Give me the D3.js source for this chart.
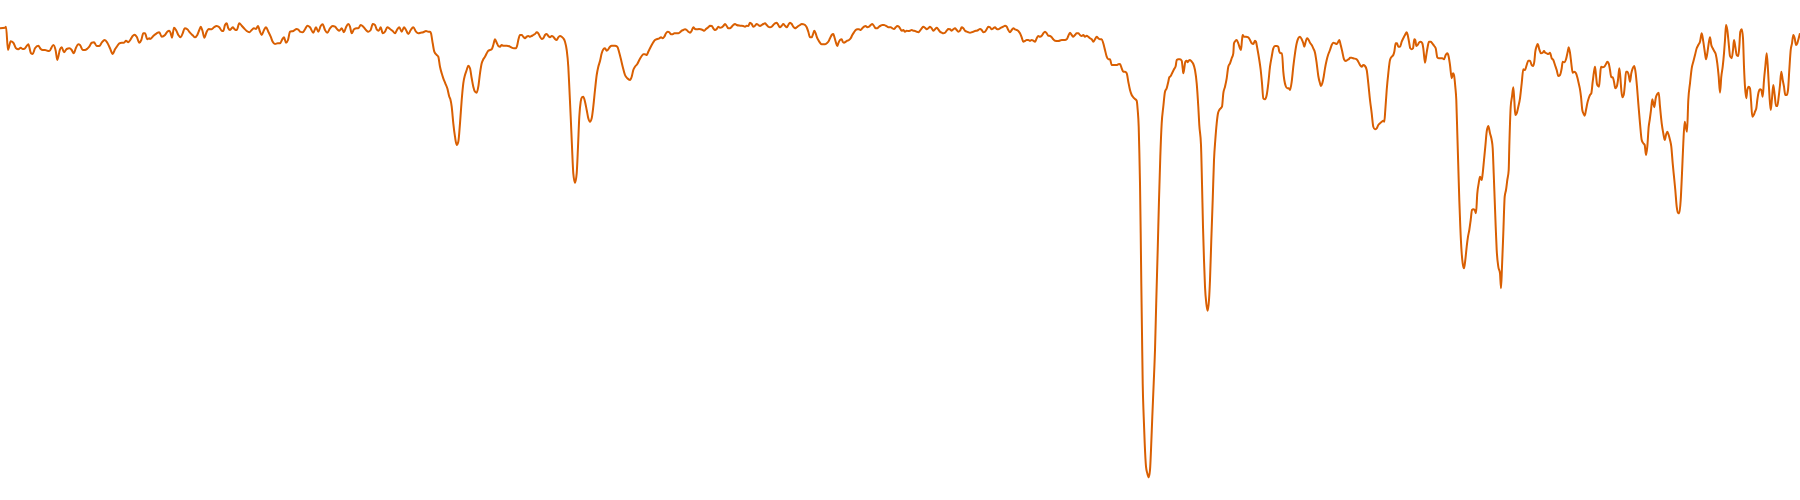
<!DOCTYPE html>
<html>
<head>
<meta charset="utf-8">
<script src="https://cdn.jsdelivr.net/npm/d3@7"></script>
<style>
  html, body { margin: 0; padding: 0; background: #ffffff; }
  svg { display: block; }
</style>
</head>
<body>
<svg id="chart" width="1800" height="500"></svg>
<script>
// Spectrum trace as [position, depth] pairs (depth grows downward)
const seg1 = [[0,28.3],[5,27.7],[6,26.7],[8,50],[10.7,41.3],[13.3,42.7],[16,48.3],[18.3,49.3],[20.7,47.7],[22.7,49],[25,48.3],[28.3,44.3],[31,53.3],[32.7,54],[35,48.3],[38.3,45.7],[40.7,49],[42.7,50],[45,50],[47.3,50.7],[49.3,51],[53.3,45],[55.7,50.7],[57.3,60],[60,49.3],[61.7,47.3],[64,52.3],[66.7,49],[69.3,48.3],[71.7,50],[73.7,53.3],[76,47.7],[78.3,44.3],[80,45],[82.7,50],[85,50],[87.3,48.7],[89.3,46.7],[91.7,42.7],[94,42.3],[96.7,46],[99.3,46],[101.7,42.7],[104.7,40],[107.3,42.7],[110,48.3],[112.7,54],[115,49.3],[117.3,46],[119.3,43.3],[121.7,42.7],[124,42.7],[126,40.7],[128.3,42.3],[130.7,39.3],[132.7,36],[134.3,34.7],[136.7,36.7],[139.3,42.7],[141.3,40],[143.3,33.3],[145,33.3],[147.3,39.3],[149.3,38.3]];
const seg2 = [[150,39],[153.3,36],[156.7,33.3],[159.3,32.3],[161.7,36.7],[165,35],[167.3,31.7],[169.3,30.7],[170.7,33.3],[172,37.7],[174,27.7],[176,30],[178.3,35],[180.7,37.3],[182.7,33.3],[184.7,28.3],[187.3,29.3],[190,32.7],[192.7,35.3],[195,37.3],[197.3,35],[199.3,30],[200.7,26.7],[202.7,31.7],[204.3,37.7],[206.7,31.7],[208.7,29],[211.7,29.3],[214,27.3],[216.7,26],[219.3,27.3],[221.7,30.7],[223.3,31],[225,25],[226.7,23.3],[228.3,28.3],[230,30],[232.7,27.3],[234.7,29.3],[236.7,30],[239.3,23.3],[241.7,25.7],[244,28.3],[246.7,31],[249.3,32.3],[251.7,30],[254,28.3],[256,29],[258,26],[260,31.7],[261.7,35],[264,30],[266,27.3],[268.3,31.7],[270.7,36.7],[272.7,41.7],[275,44],[277.7,43.3],[280,43.3],[282.3,39.3],[284,37.3],[286,42.7],[288,40],[290,31.7],[293.3,31],[296.7,29],[299.3,30.7]];
const seg3 = [[300,31.7],[302.7,32.3],[305,29.3],[307.3,25.7],[310,27.3],[313.3,32.7],[316,27.3],[318.3,31.7],[320.7,26],[322.7,24.3],[325,30],[327.3,32.7],[330,28.3],[332.7,26],[335,26.7],[337.3,29.3],[339.3,30.7],[341.7,28.3],[344,32.3],[346,27.3],[348.3,24],[350,26.7],[351.7,33.3],[354,29.3],[356.7,28.3],[358.3,28.3],[360.7,25],[363.3,26.7],[366,30],[368.3,31.7],[370.7,30],[372.7,24],[375,25],[376.7,29.3],[378.7,30.7],[380.7,27.3],[382.7,33.3],[385,31.7],[387.3,27.3],[390,29],[392.7,31],[395,33.3],[397.3,29.3],[399.3,27.3],[401.7,31.7],[404,27.3],[406,30],[408.3,34],[410.7,30],[413.3,27.3],[416,31.7],[418.3,33.3],[420.7,32.7],[423.3,32.3],[426,31],[428.3,31.7],[430,31.7],[431,33.3],[432.7,43.3],[434.3,51.7],[436.7,55],[438.3,56.7],[440,66.7],[441.7,73.3],[443.3,78.3],[445.3,83.3],[447.3,88.3],[449.3,96.7]];
const seg4 = [[450.3,99],[451.7,106.7],[453.3,123.3],[455,136.7],[456.7,145],[458.3,141.7],[460,123.3],[461.7,100],[463.3,83.3],[465,75],[466.7,70],[468.3,65.7],[470,68.3],[471.7,78.3],[473.3,86.7],[475,91.7],[476.7,92.7],[478.3,86.7],[480,73.3],[481.7,63.3],[483.3,59.3],[485,56.7],[486.7,53.3],[488.3,50.7],[490,50],[491.7,49.3],[493.3,45],[495,39.3],[496.7,42.7],[498.3,46],[500,46.7],[501.7,45],[503.3,45.7],[506.7,45.7],[510,46.7],[511.7,47.7],[514,48.3],[516,48.3],[517.3,45],[518.3,40],[520,35],[521.7,35],[523.3,36.7],[525,38.3],[526.7,36.7],[528.3,36],[530,36.7],[531.7,36],[533.3,35],[535,34],[536.7,32.3],[538.3,33.3],[540,36.7],[541.7,39],[543.3,38.3],[545,35],[546.7,34],[548.3,36],[550,37.3],[551.7,36],[553.3,36.7],[555,39],[556.7,40],[558.3,37.3],[560,36],[561.7,36.7],[563.3,38.3],[565,41.7],[566.7,50],[568.3,66.7],[569.3,86.7],[570.7,116.7],[572,146.7],[573.3,173.3],[575,182.7],[576.7,173.3],[578,146.7],[579.3,116.7],[580.7,101.7],[582,97.3],[583.3,96.7],[585,101.7],[586.7,110],[588.3,118.3],[590,121.7],[591.7,118.3],[593.3,106.7],[595,90],[596.7,75],[598.3,66.7]];
const seg5 = [[600,61],[601.7,53.3],[603.3,49.3],[605,48.3],[606.7,50.7],[608.3,49.3],[610,46.7],[611.7,45.7],[615,45.7],[617.3,46.7],[619,51.7],[620.7,58.3],[622.7,66.7],[625,75],[627.3,78.3],[630,80],[631.7,76.7],[633.3,70],[635,66.7],[637.3,64],[639.3,60],[641.7,56],[643.3,54.3],[645,54.3],[646.7,55],[648.3,51.7],[650,48.3],[651.7,45],[653.3,42.3],[655,40],[657.3,39],[659.3,38.3],[661,37.3],[662.7,38.3],[664.3,36.7],[666,33.3],[667.7,31.7],[669.3,32.3],[671,34.3],[672.7,34.3],[674.3,33.3],[676,33.3],[678.3,33.3],[680,32.3],[681.7,30.7],[683.3,30],[685,29.3],[686.7,30],[688.3,31.7],[690,32.7],[691.7,30.7],[693.3,27.3],[695,29],[696.7,29.3],[699,29],[700.7,29.3],[702.7,30],[704.3,30.7],[706,29],[708.3,27.3],[710,25.7],[711.7,26],[713.3,28.3],[715,30],[716.7,29],[718.3,26.7],[720,27.7],[721.7,27.3],[723.3,26],[725,24],[726.7,26],[728.3,28.3],[730,28.3],[731.7,26.7],[733.3,25],[735,24],[736.7,25],[740,25.7],[743.3,26],[745,26.7],[746.7,25.7],[748.3,26]];
const seg6 = [[750,22.7],[751.7,24],[753.3,26.7],[755,25.7],[756.7,24],[758.3,25],[760,26],[761.7,25],[763.3,24],[765,23.3],[766.7,25],[768.3,26.7],[770,27.3],[771.7,26.7],[773.3,25],[775,23.3],[776.7,22.7],[778.3,25],[780,27.3],[781.7,25.7],[783.3,24],[785,25.7],[786.7,27.3],[788.3,25],[790,22.7],[791.7,24],[793.3,26.7],[795,28.3],[796.7,27.3],[798.3,26],[800,25],[801.7,24],[803.3,24.3],[805,25],[806.7,27.3],[808.3,31.7],[810,37.3],[811.7,37.3],[813.3,33.3],[814.3,30.7],[815.7,33.3],[816.7,36.7],[818.3,40],[820,42.7],[821.7,44.3],[823.3,44.3],[825,44.3],[826.7,43.3],[828.3,41.7],[830,38.3],[831.7,35],[833.3,34],[834.3,36.7],[835.7,41.7],[837.3,46],[838.3,43.3],[840,40],[841.7,39.3],[842.7,41.7],[844,42.7],[845.7,41.7],[847.3,40.7],[849,40],[850.7,38.3],[852.3,35],[854,32.3],[855.7,30],[857.3,29.3],[859,29.3],[860.7,30],[862.3,28.3],[864,26.7],[865.7,26],[867.3,27.3],[869,26.7],[870.7,25],[872.3,24],[874,26],[875.7,28.3],[877.3,28.3],[879,26.7],[880.7,25.7],[882.3,25],[884,25],[885.7,25.7],[887.3,26.7],[889,27.3],[890.7,27.3],[892.3,28.3],[894,29],[895.7,27.3],[897.3,26],[899,26.7]];
const seg7 = [[900,28.3],[901.7,30.7],[903.3,30],[905,31.7],[906.7,30.7],[908.3,31],[910,30.7],[911.7,30],[913.3,30.7],[915,31],[916.7,31.7],[918.3,32.3],[920,30.7],[921.7,28.3],[923.3,26.7],[925,27.7],[926.7,29.3],[928.3,28.3],[930,26.7],[931.7,28.3],[933.3,30.7],[935,29.3],[936.7,27.7],[938.3,29.3],[940,31.7],[941.7,32.7],[943.3,33.3],[945,32.7],[946.7,30.7],[948.3,29],[950,29.3],[951.7,30.7],[953.3,29.3],[955,28.3],[956.7,30],[958.3,31.7],[960,30.7],[961.7,27.3],[963.3,28.3],[965,30.7],[966.7,31.7],[968.3,32.3],[970,32.7],[971.7,32.3],[973.3,31.7],[975,31],[976.7,30.7],[978.3,30],[980,29],[981.7,30],[983.3,32.3],[985,31.7],[986.7,29.3],[988.3,26.7],[990,27.3],[991.7,29.3],[993.3,28.3],[995,27.3],[996.7,29],[998.3,29.3],[1000,28.3],[1001.7,27.3],[1003.3,26.7],[1005,25.7],[1006.7,26.7],[1008.3,30],[1010,32.3],[1011.7,30],[1013.3,28.3],[1015,29.3],[1016.7,30],[1018.3,31],[1020,33.3],[1021.7,37.3],[1023.3,41.7],[1025,41],[1026.7,40],[1028.3,40],[1030,40.7],[1031.7,40],[1033.3,40.7],[1035,41.7],[1036.7,38.3],[1038.3,36],[1040,36.7],[1041.7,35.7],[1043.3,33.3],[1045,31.7],[1046.7,33.3],[1048.3,35.7]];
const seg8 = [[1050,36],[1051.7,37.3],[1053.3,39.3],[1055,40.7],[1058.3,41],[1061.7,40],[1065,40],[1066.7,39.3],[1068.3,36],[1070,32.7],[1071.7,35],[1073.3,36.7],[1075,35],[1076.7,33.3],[1078.3,33.3],[1080,35],[1081.7,36],[1083.3,35],[1085,36.7],[1086.7,35.7],[1088.3,36.7],[1090,38.3],[1091.7,39.3],[1093.3,41.7],[1095,39.3],[1096.7,36.7],[1098.3,38.3],[1100,39.3],[1101.7,39.3],[1103.3,43.3],[1105,50],[1106.7,56.7],[1108.3,59.3],[1110,59.3],[1111.7,65],[1113.3,65],[1115,65],[1116.7,65],[1118.3,64.3],[1120,64],[1121.7,68.3],[1123.3,71.7],[1125,71.7],[1126.7,73.3],[1128.3,81.7],[1130,90],[1131.7,95],[1133.3,97.3],[1135,99],[1136.7,100.7],[1137.7,110],[1138.7,126.7],[1139.3,150],[1140,183.3],[1140.7,233.3],[1141.3,283.3],[1142,333.3],[1142.7,383.3],[1143.7,416.7],[1144.7,443.3],[1146,466.7],[1147.3,473.3],[1148.7,477.3],[1150,470],[1151,450],[1152.3,416.7],[1153.7,383.3],[1155,350],[1156.3,300],[1157.7,250],[1159,200],[1160.3,156.7],[1161.7,123.3],[1163.3,106.7],[1165,91.7],[1166.7,88.3],[1168.3,81.7],[1169.3,77.3],[1170.7,76],[1172.3,72.7],[1174,69.3],[1175.7,66],[1176.7,60],[1178.3,59.3],[1180,59.3],[1181.7,60.7],[1182.7,68.3],[1183.3,73.3],[1184.3,68.3],[1185.3,61.7],[1186.7,60.7],[1187.7,62.3],[1188.7,60.7],[1190,60],[1191.7,61.7],[1193.3,64],[1195,70],[1196.7,83.3],[1198.3,106.7],[1199.3,125]];
const seg9 = [[1201,145],[1202,183.3],[1203,226.7],[1204,260],[1205,286.7],[1206.3,303.3],[1207.7,310.7],[1209,300],[1210,280],[1211.3,240],[1212.7,200],[1214,160],[1215.3,140],[1216.7,123.3],[1218,113.3],[1219.3,110],[1220.7,108.3],[1222,106.7],[1223.3,93.3],[1225,86.7],[1226.7,78.3],[1228.3,66.7],[1230,63.3],[1231.7,58.3],[1233.3,53.3],[1234,43.3],[1235.3,41],[1236.7,40],[1238.3,43.3],[1240,48.3],[1241,50],[1242,40],[1242.7,35],[1244,36.7],[1246,36.7],[1248.3,37.3],[1250,40],[1251.7,43.3],[1253.3,44],[1255,40.7],[1256,41.7],[1257.3,48.3],[1259.3,60],[1260.7,70],[1262,83.3],[1263.3,98.3],[1265,99.3],[1266.7,95],[1268.3,83.3],[1270,66.7],[1271.7,56.7],[1273.3,48.3],[1275,46],[1276.7,46],[1278.3,46.7],[1279.3,51.7],[1280.7,53.3],[1282,53.3],[1283.3,71.7],[1284.3,80],[1285.7,86],[1287.3,88.3],[1288.7,88.3],[1290,90],[1291.7,81.7],[1293.3,66.7],[1295,53.3],[1296.7,43.3],[1298.3,38.3],[1300,36.7],[1301.7,39.3],[1303.3,43.3],[1304.3,46.7],[1305.7,41.7],[1307,38.3],[1308.3,39.3],[1310,42.7],[1311.7,45],[1313.3,48.3],[1315,52.7],[1316.7,63.3],[1318.3,76],[1320,83.3],[1321,86],[1322.3,83.3],[1323.7,76.7],[1325,68.3],[1326.7,60],[1328.3,54.3],[1330,50],[1331.7,45],[1333.3,42.7],[1335,43.3],[1336.7,44],[1338.3,41.7],[1339.3,40],[1340.7,45],[1342.3,51.7],[1344,59.3],[1345.7,61],[1347.3,60],[1349,59]];
const seg10 = [[1350,57.7],[1351.7,57.7],[1353.3,58.3],[1356.7,59.3],[1358.3,61.7],[1360,65],[1361.7,66.7],[1363.3,65],[1365,66],[1366.7,70],[1368.3,83.3],[1370,100],[1371.7,113.3],[1373.3,126.7],[1375,129.3],[1376.7,128.3],[1378.3,125],[1380,123.3],[1381.7,121.7],[1383.3,120.7],[1384.3,121.7],[1385.3,110],[1386.7,90],[1388.3,73.3],[1390,60],[1391.7,56.7],[1393.3,55],[1394.3,51.7],[1395.7,43.3],[1397,43.3],[1398.3,46.7],[1400,46.7],[1401.7,41.7],[1403.3,38.3],[1405,35],[1406.7,32.3],[1407.7,35],[1409,41.7],[1410.3,48.3],[1411.7,49.3],[1413,48.3],[1414.3,39.3],[1415.3,40],[1416.3,46],[1417.7,45],[1419,42.7],[1420.7,41.7],[1422.3,43.3],[1423.3,48.3],[1425,62.7],[1426.3,55],[1427.7,46.7],[1429,41.7],[1430.7,41.7],[1432.3,43.3],[1434,45.7],[1435.7,48.3],[1437.3,57.3],[1439,58.3],[1440.7,58.3],[1442.3,58.3],[1444,59.3],[1445.7,55],[1447.3,53.3],[1448.7,56.7],[1450,65],[1451.7,78.3],[1453,73.3],[1454,75],[1455.3,86.7],[1456.3,100],[1457.3,133.3],[1458.3,166.7],[1459.3,200],[1460.3,226.7],[1461.7,253.3],[1462.7,263.3],[1464,268.3],[1465.3,260],[1466.7,246.7],[1468,236.7],[1469.3,230],[1470.7,220],[1472,210],[1473.3,209.3],[1474.7,210],[1476,213.3],[1477.3,193.3],[1478.7,183.3],[1480,176.7],[1481.7,180],[1482.7,173.3],[1484,160],[1485.3,146.7],[1486.7,131.7],[1488.3,126],[1490,133.3],[1491.7,140],[1492.7,148.3],[1493.7,173.3],[1494.7,200],[1495.7,226.7],[1496.7,250],[1498.3,266.7]];
const seg11 = [[1500,273.3],[1501,288.3],[1502,266.7],[1503.3,233.3],[1504.7,196.7],[1506,190],[1507.3,180],[1508.7,170],[1509.3,146.7],[1510.7,106.7],[1512,96.7],[1513.3,87.3],[1514.3,100],[1515.3,115],[1516.7,113.3],[1518.3,106.7],[1520,98.3],[1521.7,83.3],[1523.3,69.3],[1525,70],[1526.7,65],[1528.3,60.7],[1530,60.7],[1531.7,65],[1533.3,66],[1534.3,61.7],[1535.3,51.7],[1536.7,46],[1537.7,44],[1539.3,49.3],[1541,53.3],[1542.7,52.7],[1544,51],[1545.3,52.7],[1546.7,53.3],[1548.3,54],[1550,52.7],[1551.7,58.3],[1553.3,60],[1555,65],[1556.7,70],[1558.3,76],[1560,75],[1561.7,68.3],[1562.7,61.7],[1564.3,62.3],[1566,59.3],[1567.7,51.7],[1568.7,47.3],[1570,52.7],[1571.3,63.3],[1572.7,72.7],[1574.3,71.7],[1576,73.3],[1577.3,77.3],[1578.7,83.3],[1580,89.3],[1581,96.7],[1582.3,110],[1583.7,114],[1584.7,115.7],[1586,110],[1587.3,103.3],[1588.7,98.3],[1590,95],[1591.3,93.3],[1592.7,81.7],[1594,71.7],[1595,66.7],[1596,75],[1597,84],[1598,86],[1599,86.7],[1600,76.7],[1601,66.7],[1602.7,67.3],[1604.3,66.7],[1606,64],[1607.3,61.7],[1608.7,63.3],[1610,70],[1611.3,77.3],[1612.7,77.3],[1614,81.7],[1615.3,88.3],[1616.7,86.7],[1618,80],[1619.3,68.3],[1620.3,76.7],[1621.3,90],[1622.3,97.3],[1623.7,95],[1625,83.3],[1626,71.7],[1627.3,71.7],[1628.7,75],[1630,81.7],[1631.3,73.3],[1632.7,68.3],[1634.3,66],[1635.7,73.3],[1637,86.7],[1638.3,103.3],[1640,123.3],[1641.7,140],[1643.3,143.3],[1644.7,145],[1646,155],[1647.3,146.7],[1648.7,126.7]];
const seg12 = [[1649.7,120],[1651,110],[1652.3,99.3],[1653.3,103.3],[1654.3,107.3],[1655.7,98.3],[1657.3,94],[1658.7,92.7],[1660,106.7],[1661.7,123.3],[1663.3,133.3],[1664.7,140],[1666,135],[1667.3,131.7],[1668.7,135],[1670,140],[1671.3,146.7],[1672.7,163.3],[1674,176.7],[1675.3,190],[1676.7,206.7],[1678,212.7],[1679.3,213.3],[1680.7,200],[1682,173.3],[1683.3,143.3],[1684.7,121.7],[1686,128.3],[1687,131.7],[1688.3,100],[1690,83.3],[1691.7,68.3],[1693.3,61.7],[1695,55],[1696.7,48.3],[1698.3,45],[1700,41.7],[1701.7,33.3],[1703.3,41.7],[1705,53.3],[1706,59.3],[1707.3,53.3],[1708.7,43.3],[1710,37.3],[1711.3,45],[1712.7,48.3],[1714,50.7],[1715.7,54],[1717.3,63.3],[1718.7,76.7],[1720,92.7],[1721.3,76.7],[1722.7,66.7],[1724,53.3],[1725,40],[1726,25],[1727.3,30],[1728.7,43.3],[1730,56],[1731.7,58.3],[1733,50],[1734,40],[1735.3,46.7],[1736.7,55],[1738.3,56],[1739.3,46.7],[1740.3,31.7],[1741.7,29.3],[1743,38.3],[1744,66.7],[1745,86.7],[1746.3,98.3],[1747.3,90],[1748.7,86.7],[1750,88.3],[1751,100],[1752.3,116.7],[1753.7,115],[1755,111.7],[1756.3,108.3],[1757.3,100],[1758.7,91.7],[1760,89.3],[1761.3,90],[1762.7,96.7],[1764,80],[1765.3,66.7],[1766.7,53.3],[1768,70],[1769.3,93.3],[1770.7,110],[1772,98.3],[1773.3,85],[1774.7,95],[1776,106],[1777.3,106],[1778.7,96.7],[1780,85],[1781.3,71.7],[1782.7,80],[1784,86.7],[1785.3,95],[1786.7,95],[1788,90],[1789.3,70],[1790.7,50],[1792,43.3],[1793.3,35],[1794.7,38.3],[1796,45],[1797.3,43.3],[1798.7,38.3],[1800,33.3]];

const segments = [seg1, seg2, seg3, seg4, seg5, seg6, seg7, seg8, seg9, seg10, seg11, seg12];
const data = segments.flat();

const width = 1800, height = 500;
const svg = d3.select("#chart");

const x = d3.scaleLinear().domain([0, 1800]).range([0, width]);
const y = d3.scaleLinear().domain([0, 500]).range([0, height]);

const line = d3.line()
  .x(d => x(d[0]))
  .y(d => y(d[1]))
  .curve(d3.curveMonotoneX);

svg.append("path")
  .datum(data)
  .attr("fill", "none")
  .attr("stroke", "#d95f02")
  .attr("stroke-width", 2)
  .attr("stroke-linejoin", "round")
  .attr("d", line);
</script>
</body>
</html>
